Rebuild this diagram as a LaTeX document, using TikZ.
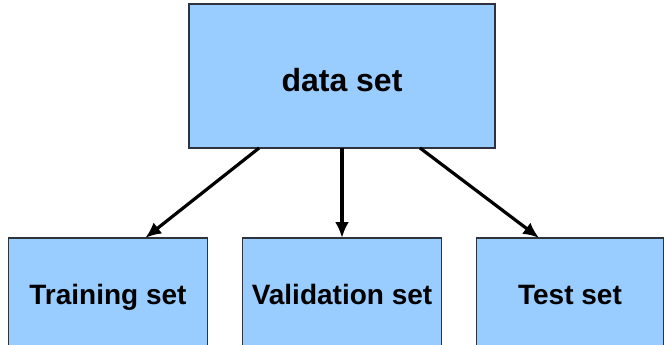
\documentclass[tikz,border=0pt]{standalone}
\usepackage{fontspec}
\setmainfont{Liberation Sans}
\usepackage{xcolor}
\usepackage{tikz}
\usetikzlibrary{arrows.meta,positioning,calc}

\definecolor{setblue}{HTML}{99CCFF}
\definecolor{setedge}{HTML}{2E3340}

\begin{document}
\begin{tikzpicture}[
    x=1pt, y=1pt,
    node distance=35pt,
    box/.style={draw=setedge, line width=1.4pt, fill=setblue, inner sep=0pt, outer sep=0pt, align=center},
    subset/.style={box, minimum width=199pt, minimum height=110pt, text height=22pt, text depth=0pt, font=\fontsize{28}{32}\selectfont\bfseries},
    arrow/.style={-{Latex[length=16pt,width=14pt]}, line width=3.2pt}
]
\useasboundingbox (0,0) rectangle (666,-345);

% Full data set
\node[box, minimum width=306pt, minimum height=144pt, text height=30pt, text depth=0pt, font=\fontsize{32}{36}\selectfont\bfseries] (data) at (342,-76) {data set};

% The three splits
\node[subset, below=90pt of data] (valid) {Validation set};
\node[subset, left=of valid] (train) {Training set};
\node[subset, right=of valid, minimum width=187pt] (test) {Test set};

% Arrows
\draw[arrow] ($(data.south west)!0.229!(data.south east)$) -- ($(train.north west)!0.687!(train.north east)$);
\draw[arrow] (data.south) -- (valid.north);
\draw[arrow] ($(data.south west)!0.755!(data.south east)$) -- ($(test.north west)!0.335!(test.north east)$);

\end{tikzpicture}
\end{document}
